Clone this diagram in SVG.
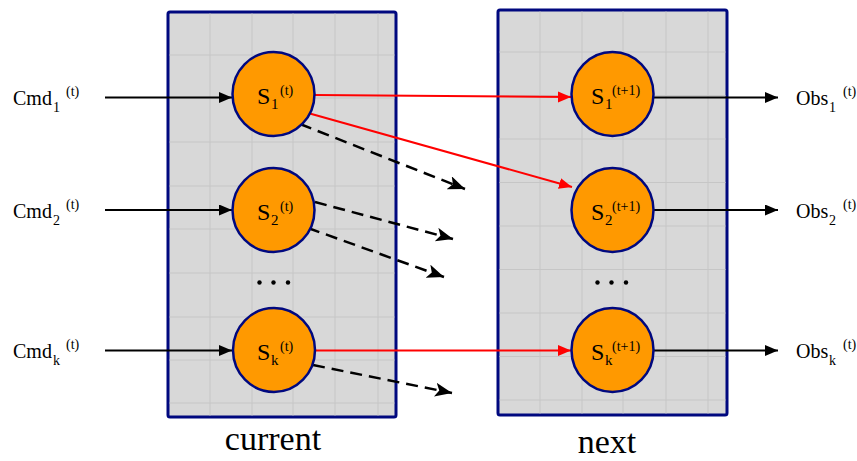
<svg xmlns="http://www.w3.org/2000/svg" width="857" height="461" viewBox="0 0 857 461">
<defs>
<marker id="ab" markerUnits="userSpaceOnUse" markerWidth="14" markerHeight="12" refX="13" refY="5.5" orient="auto"><path d="M0,0 L13,5.5 L0,11 z" fill="#000"/></marker>
<marker id="ar" markerUnits="userSpaceOnUse" markerWidth="14" markerHeight="12" refX="13" refY="5.5" orient="auto"><path d="M0,0 L13,5.5 L0,11 z" fill="#ff0000"/></marker>
<marker id="ad" markerUnits="userSpaceOnUse" markerWidth="18" markerHeight="16" refX="17" refY="7" orient="auto"><path d="M0,0 L17,7 L0,14 L4,7 z" fill="#000"/></marker>
</defs>
<style>
.box{fill:#d8d8d8;stroke:#00087f;stroke-width:3}
.grid{stroke:#c6c6c6;stroke-width:1}
.st{fill:#ff9900;stroke:#00087f;stroke-width:2.5}
.t{font-family:"Liberation Serif","Times New Roman",serif;fill:#000}
.big{font-size:24px}
.sub{font-size:15px}
.sup{font-size:14px}
.lbl{font-size:20px}
.lsub{font-size:14px}
.lsup{font-size:14px}
.cap{font-size:34px}
.blk{stroke:#000;stroke-width:2;fill:none;marker-end:url(#ab)}
.red{stroke:#ff0000;stroke-width:2;fill:none;marker-end:url(#ar)}
.dash{stroke:#000;stroke-width:2.5;fill:none;stroke-dasharray:12,7;marker-end:url(#ad)}
</style>

<g id="current">
<rect class="box" x="168" y="12" width="228" height="405" rx="2"/>
<g class="grid">
<line x1="210" y1="13.5" x2="210" y2="415.5"/><line x1="252" y1="13.5" x2="252" y2="415.5"/><line x1="293" y1="13.5" x2="293" y2="415.5"/><line x1="335" y1="13.5" x2="335" y2="415.5"/><line x1="378" y1="13.5" x2="378" y2="415.5"/>
<line x1="169.5" y1="55" x2="394.5" y2="55"/><line x1="169.5" y1="98" x2="394.5" y2="98"/><line x1="169.5" y1="142" x2="394.5" y2="142"/><line x1="169.5" y1="186" x2="394.5" y2="186"/><line x1="169.5" y1="229" x2="394.5" y2="229"/><line x1="169.5" y1="273" x2="394.5" y2="273"/><line x1="169.5" y1="317" x2="394.5" y2="317"/><line x1="169.5" y1="360" x2="394.5" y2="360"/><line x1="169.5" y1="403" x2="394.5" y2="403"/>
</g>
<text class="t cap" x="273" y="450" text-anchor="middle">current</text>
</g>

<g id="next">
<rect class="box" x="498" y="10" width="229" height="405" rx="2"/>
<g class="grid">
<line x1="540" y1="11.5" x2="540" y2="413.5"/><line x1="582" y1="11.5" x2="582" y2="413.5"/><line x1="623" y1="11.5" x2="623" y2="413.5"/><line x1="666" y1="11.5" x2="666" y2="413.5"/><line x1="708" y1="11.5" x2="708" y2="413.5"/>
<line x1="499.5" y1="52" x2="725.5" y2="52"/><line x1="499.5" y1="95.5" x2="725.5" y2="95.5"/><line x1="499.5" y1="139" x2="725.5" y2="139"/><line x1="499.5" y1="182.5" x2="725.5" y2="182.5"/><line x1="499.5" y1="226" x2="725.5" y2="226"/><line x1="499.5" y1="269.5" x2="725.5" y2="269.5"/><line x1="499.5" y1="313" x2="725.5" y2="313"/><line x1="499.5" y1="356.5" x2="725.5" y2="356.5"/><line x1="499.5" y1="400" x2="725.5" y2="400"/>
</g>
<text class="t cap" x="607" y="453" text-anchor="middle">next</text>
</g>

<g id="dots">
<circle cx="259.5" cy="282.5" r="2.2"/><circle cx="273.5" cy="282.5" r="2.2"/><circle cx="288" cy="282.5" r="2.2"/>
<circle cx="597.5" cy="282.5" r="2.2"/><circle cx="611.5" cy="282.5" r="2.2"/><circle cx="626" cy="282.5" r="2.2"/>
</g>

<g id="connectors">
<line class="blk" x1="105" y1="97.5" x2="232" y2="97.5"/>
<line class="blk" x1="105" y1="210" x2="232" y2="210"/>
<line class="blk" x1="105" y1="350.5" x2="232" y2="350.5"/>
<line class="blk" x1="653" y1="97.5" x2="778" y2="97.5"/>
<line class="blk" x1="653" y1="210" x2="778" y2="210"/>
<line class="blk" x1="653" y1="350.5" x2="778" y2="350.5"/>
<line class="red" x1="314" y1="95" x2="571" y2="97"/>
<line class="red" x1="308" y1="113" x2="572" y2="187"/>
<line class="red" x1="315" y1="350.5" x2="571" y2="350.5"/>
<line class="dash" x1="300" y1="124" x2="465" y2="189"/>
<line class="dash" x1="315" y1="202" x2="453" y2="239"/>
<line class="dash" x1="308" y1="228" x2="444" y2="277"/>
<line class="dash" x1="313" y1="365" x2="452" y2="393"/>
</g>

<g id="cmd1"><text class="t lbl" x="13" y="105">Cmd<tspan class="lsub" x="53" y="112">1</tspan><tspan class="lsup" x="66" y="96">(t)</tspan></text></g>
<g id="cmd2"><text class="t lbl" x="13" y="218">Cmd<tspan class="lsub" x="53" y="225">2</tspan><tspan class="lsup" x="66" y="209">(t)</tspan></text></g>
<g id="cmdk"><text class="t lbl" x="13" y="358">Cmd<tspan class="lsub" x="53" y="365">k</tspan><tspan class="lsup" x="66" y="349">(t)</tspan></text></g>
<g id="obs1"><text class="t lbl" x="796" y="105">Obs<tspan class="lsub" x="829" y="112">1</tspan><tspan class="lsup" x="843" y="96">(t)</tspan></text></g>
<g id="obs2"><text class="t lbl" x="796" y="218">Obs<tspan class="lsub" x="829" y="225">2</tspan><tspan class="lsup" x="843" y="209">(t)</tspan></text></g>
<g id="obsk"><text class="t lbl" x="796" y="358">Obs<tspan class="lsub" x="829" y="365">k</tspan><tspan class="lsup" x="843" y="349">(t)</tspan></text></g>

<g id="s1t"><ellipse class="st" cx="273.5" cy="94" rx="41" ry="42"/><text class="t big" x="257" y="104">S<tspan class="sub" x="271" y="109">1</tspan><tspan class="sup" x="280" y="95">(t)</tspan></text></g>
<g id="s2t"><ellipse class="st" cx="273.5" cy="210" rx="41" ry="42"/><text class="t big" x="257" y="220">S<tspan class="sub" x="271" y="225">2</tspan><tspan class="sup" x="280" y="211">(t)</tspan></text></g>
<g id="skt"><ellipse class="st" cx="274" cy="350" rx="41" ry="42"/><text class="t big" x="257" y="360">S<tspan class="sub" x="271" y="365">k</tspan><tspan class="sup" x="280" y="351">(t)</tspan></text></g>
<g id="s1n"><ellipse class="st" cx="612.5" cy="94" rx="41" ry="42"/><text class="t big" x="591" y="104">S<tspan class="sub" x="605" y="109">1</tspan><tspan class="sup" x="612" y="95">(t+1)</tspan></text></g>
<g id="s2n"><ellipse class="st" cx="612.5" cy="210" rx="41" ry="42"/><text class="t big" x="591" y="220">S<tspan class="sub" x="605" y="225">2</tspan><tspan class="sup" x="612" y="211">(t+1)</tspan></text></g>
<g id="skn"><ellipse class="st" cx="612.5" cy="350" rx="41" ry="42"/><text class="t big" x="591" y="360">S<tspan class="sub" x="605" y="365">k</tspan><tspan class="sup" x="612" y="351">(t+1)</tspan></text></g>
</svg>
